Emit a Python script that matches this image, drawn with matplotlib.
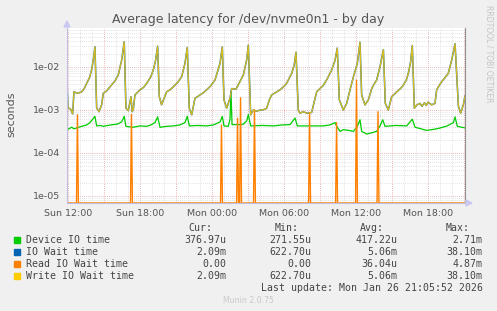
import matplotlib
matplotlib.use('Agg')
import matplotlib.pyplot as plt
from matplotlib.patches import Rectangle
from matplotlib.ticker import MultipleLocator, FuncFormatter, FixedLocator, NullFormatter
import numpy as np

# time axis: hours since Sun 12:00
write_t = [-0.08, 0.0, 0.2, 0.39, 0.5, 0.8, 1.14, 1.35, 1.56, 1.8, 1.97, 2.12, 2.25,
           2.39, 2.58, 2.81, 2.94, 3.2, 3.5, 3.9, 4.19, 4.47, 4.69,
           4.83, 5.03, 5.25, 5.35, 5.44, 5.58, 6.0, 6.3, 6.56, 6.9, 7.11, 7.3, 7.47,
           7.61, 7.8, 8.22, 8.5, 8.78, 9.1, 9.47, 9.75, 9.94,
           10.11, 10.31, 10.58, 11.0, 11.3, 11.56, 11.9, 12.25, 12.67, 12.86,
           13.0, 13.22, 13.5, 13.64, 14.0, 14.33, 14.61, 14.89, 15.03,
           15.22, 15.44, 15.7, 16.0, 16.3, 16.56, 16.78, 16.97, 17.3, 17.67, 18.0, 18.22, 18.64, 18.85, 19.0,
           19.19, 19.33, 19.6, 19.9, 20.3, 20.72, 21.0, 21.28, 21.6, 21.97, 22.25, 22.44,
           22.61, 22.94, 23.22, 23.5, 23.78, 24.11, 24.33,
           24.47, 24.75, 25.03, 25.31, 25.5, 25.72, 26.0, 26.28,
           26.44, 26.69, 26.97, 27.39, 27.7, 27.94, 28.2, 28.36, 28.55, 28.69,
           28.86, 29.06, 29.33, 29.5, 29.7, 29.85, 30.0, 30.3, 30.58, 30.72, 31.14, 31.4, 31.69, 31.97, 32.25,
           32.53, 32.72, 32.94, 33.08]
write_v = [4.0e-3, 1.1e-3, 1.05e-3, 8.0e-4, 2.6e-3, 2.4e-3, 2.6e-3, 3.1e-3, 4.1e-3, 5.6e-3, 8.4e-3, 1.5e-2, 2.9e-2,
           1.1e-3, 9.0e-4, 1.3e-3, 2.4e-3, 2.7e-3, 3.4e-3, 4.6e-3, 6.4e-3, 1.4e-2, 3.81e-2,
           1.08e-3, 9.5e-4, 2.0e-3, 9.0e-4, 1.0e-3, 2.2e-3, 2.9e-3, 3.3e-3, 4.1e-3, 5.8e-3, 8.4e-3, 1.4e-2, 3.0e-2,
           2.0e-3, 1.3e-3, 2.6e-3, 2.9e-3, 3.4e-3, 4.2e-3, 5.8e-3, 1.2e-2, 2.8e-2,
           1.08e-3, 7.6e-4, 1.84e-3, 2.2e-3, 2.5e-3, 2.9e-3, 3.6e-3, 4.9e-3, 1.2e-2, 2.9e-2,
           1.7e-3, 1.08e-3, 1.84e-3, 3.1e-3, 3.0e-3, 4.5e-3, 6.4e-3, 1.43e-2, 3.2e-2,
           7.6e-4, 9.8e-4, 9.2e-4, 9.8e-4, 1.0e-3, 1.08e-3, 1.7e-3, 2.2e-3, 2.5e-3, 2.9e-3, 3.5e-3, 4.1e-3, 7.0e-3, 1.1e-2, 2.16e-2,
           9.8e-4, 8.3e-4, 9.0e-4, 8.3e-4, 8.6e-4, 2.6e-3, 3.1e-3, 3.7e-3, 5.2e-3, 8.4e-3, 1.4e-2, 2.7e-2,
           1.7e-3, 9.8e-4, 1.4e-3, 2.9e-3, 5.8e-3, 1.2e-2, 3.7e-2,
           2.2e-3, 1.29e-3, 1.7e-3, 3.1e-3, 3.9e-3, 4.9e-3, 1.0e-2, 2.5e-2,
           1.4e-3, 9.8e-4, 2.0e-3, 2.6e-3, 3.1e-3, 3.7e-3, 5.0e-3, 7.0e-3, 1.3e-2, 3.1e-2,
           1.08e-3, 1.29e-3, 1.4e-3, 1.2e-3, 1.45e-3, 1.25e-3, 1.5e-3, 1.3e-3, 1.4e-3, 2.9e-3, 4.5e-3, 5.5e-3, 7.0e-3, 1.43e-2, 3.4e-2,
           1.2e-3, 8.3e-4, 1.29e-3, 2.09e-3]

device_t = [-0.08, 0.31, 0.5, 0.72, 1.0, 1.28, 1.55, 1.83, 2.25, 2.39, 2.7, 2.94, 3.3, 3.78, 4.1, 4.47, 4.69, 4.83,
            5.1, 5.44, 6.0, 6.56, 6.9, 7.25, 7.47, 7.67, 8.2, 8.78, 9.3, 9.75, 9.94, 10.11, 10.8, 11.56, 12.1,
            12.67, 12.86, 13.0, 13.36, 13.5, 13.58, 13.67, 14.33, 14.61, 14.89, 15.03, 15.22, 16.2, 17.11,
            17.8, 18.5, 18.92, 19.11, 20.2, 21.28, 21.8, 22.25, 22.39, 22.67, 22.94, 23.4, 23.78, 24.11,
            24.33, 24.47, 24.89, 25.3, 25.72, 26.0, 26.22, 26.42, 27.3, 28.22, 28.69, 28.92, 29.4, 29.89,
            30.5, 31.0, 31.6, 32.11, 32.25, 32.44, 33.08]
device_v = [3.4e-4, 3.9e-4, 3.6e-4, 3.75e-4, 4.0e-4, 4.2e-4, 4.4e-4, 5.0e-4, 7.0e-4, 4.2e-4, 4.3e-4, 4.1e-4,
            4.3e-4, 4.5e-4, 4.6e-4, 5.2e-4, 7.0e-4, 4.1e-4, 4.0e-4, 3.9e-4, 4.2e-4, 4.1e-4, 4.4e-4, 5.0e-4,
            6.8e-4, 3.9e-4, 4.1e-4, 4.2e-4, 4.4e-4, 5.0e-4, 7.0e-4, 4.2e-4, 4.3e-4, 4.2e-4, 4.4e-4, 5.2e-4,
            7.0e-4, 4.2e-4, 4.1e-4, 6.0e-4, 2.71e-3, 4.5e-4, 4.5e-4, 4.6e-4, 5.5e-4, 7.7e-4, 4.2e-4, 4.3e-4,
            4.2e-4, 4.4e-4, 4.5e-4, 6.4e-4, 4.2e-4, 4.2e-4, 4.2e-4, 4.4e-4, 5.0e-4, 4.1e-4, 3.13e-4, 3.43e-4,
            3.3e-4, 3.13e-4, 4.1e-4, 5.85e-4, 3.13e-4, 2.72e-4, 2.9e-4, 3.13e-4, 4.2e-4, 5.85e-4, 4.1e-4,
            4.3e-4, 4.2e-4, 6.0e-4, 3.9e-4, 3.6e-4, 3.3e-4, 3.5e-4, 3.75e-4, 4.2e-4, 5.0e-4, 6.8e-4, 4.1e-4,
            3.77e-4]

read_t = [-0.08, 0.71, 0.79, 0.87, 5.21, 5.29, 5.37, 12.71, 12.79, 12.87, 14.05, 14.13, 14.21,
          14.30, 14.38, 14.46, 15.46, 15.54, 15.62, 20.05, 20.13, 20.21, 22.30, 22.38, 22.46,
          23.96, 24.04, 24.12, 25.75, 25.83, 25.91, 33.08]
read_v = [0, 0, 7.6e-4, 0, 0, 7.8e-4, 0, 0, 4.4e-4, 0, 0, 6.3e-4, 0,
          0, 1.9e-3, 0, 0, 1.0e-3, 0, 0, 8.0e-4, 0, 0, 5.0e-4, 0,
          0, 4.87e-3, 0, 0, 9.0e-4, 0, 0]

legend_names = ['Device IO time', 'IO Wait time', 'Read IO Wait time', 'Write IO Wait time']
legend_colors = ['#00CC00', '#0066B3', '#FF8000', '#FFCC00']
cur_vals = ['376.97u', '2.09m', '0.00', '2.09m']
min_vals = ['271.55u', '622.70u', '0.00', '622.70u']
avg_vals = ['417.22u', '5.06m', '36.04u', '5.06m']
max_vals = ['2.71m', '38.10m', '4.87m', '38.10m']

W, H = 497, 311
fig = plt.figure(figsize=(W / 100, H / 100), dpi=100)
fig.patch.set_facecolor('#F0F0F0')
ax = fig.add_axes([67 / W, 1 - 203 / H, 398 / W, 175 / H])
ax.set_facecolor('white')

ymin, ymax = 6.76e-6, 0.0794
ax.set_yscale('log')
ax.set_xlim(-0.08, 33.08)
ax.set_ylim(ymin, ymax)

# grid
ax.xaxis.set_major_locator(MultipleLocator(3))
ax.xaxis.set_minor_locator(MultipleLocator(1))
ax.yaxis.set_major_locator(FixedLocator([1e-5, 1e-4, 1e-3, 1e-2]))
minors = [m * 10.0 ** e for e in range(-6, -1) for m in range(2, 10)]
ax.yaxis.set_minor_locator(FixedLocator(minors))
ax.yaxis.set_minor_formatter(NullFormatter())
ax.grid(which='minor', color='#d8d8d8', linestyle=(0, (1, 1.5)), linewidth=0.6)
ax.grid(which='major', color='#e8a0a0', linestyle=(0, (1, 1.5)), linewidth=0.6)
ax.set_axisbelow(True)


def xfmt(h, pos):
    if abs(h % 6) > 1e-6:
        return ''
    hh = 12 + h
    day = 'Sun' if hh < 24 else 'Mon'
    return '%s %02d:00' % (day, int(hh % 24))


ax.xaxis.set_major_formatter(FuncFormatter(xfmt))
ax.yaxis.set_major_formatter(FuncFormatter(lambda v, p: '%.0e' % v))
ax.tick_params(which='both', length=0, labelsize=6.8, colors='#555555')
ax.tick_params(axis='x', pad=4)
ax.tick_params(axis='y', pad=5)

ax.spines['top'].set_visible(False)
ax.spines['left'].set_color('#c0c0e0')
ax.spines['bottom'].set_color('#c0c0e0')
ax.spines['right'].set_color('#909090')
for s in ['left', 'bottom', 'right']:
    ax.spines[s].set_linewidth(0.8)

# series
ax.plot(device_t, device_v, color='#00CC00', lw=0.9)
ax.plot(write_t, write_v, color='#0066B3', lw=1.1)
ax.plot(read_t, np.clip(read_v, ymin, None), color='#FF8000', lw=1.0)
ax.plot(write_t, write_v, color='#FFCC00', lw=0.9, alpha=0.85)

# axis arrows
fig.patches.append(plt.Polygon([[64 / W, 1 - 27 / H], [70 / W, 1 - 27 / H], [67 / W, 1 - 21 / H]],
                               closed=True, transform=fig.transFigure, color='#c8c8f0'))
fig.patches.append(plt.Polygon([[466 / W, 1 - 200 / H], [466 / W, 1 - 206 / H], [472 / W, 1 - 203 / H]],
                               closed=True, transform=fig.transFigure, color='#c8c8f0'))

# texts
fig.text(248 / W, 1 - 23.5 / H, 'Average latency for /dev/nvme0n1 - by day', ha='center', va='baseline',
         fontsize=9, color='#555555')
fig.text(11.7 / W, 1 - 114 / H, 'seconds', rotation=90, ha='center', va='center', fontsize=8, color='#555555')
fig.text(488.5 / W, 1 - 5 / H, 'RRDTOOL / TOBI OETIKER', rotation=270, ha='center', va='top',
         fontsize=5.5, color='#c4c4c4')

mono = dict(family='DejaVu Sans Mono', fontsize=7.15, color='#444444', va='baseline')
for x, lab in zip([212.7, 299, 384.3, 470], ['Cur:', 'Min:', 'Avg:', 'Max:']):
    fig.text(x / W, 1 - 231 / H, lab, ha='right', **mono)
for i, name in enumerate(legend_names):
    yb = 243 + 12 * i
    fig.patches.append(Rectangle((14 / W, 1 - (yb - 0.5) / H), 5.5 / W, 5.5 / H,
                                 transform=fig.transFigure, color=legend_colors[i]))
    fig.text(26 / W, 1 - yb / H, name, ha='left', **mono)
    for x, vals in zip([226, 311.7, 397.3, 482.7], [cur_vals, min_vals, avg_vals, max_vals]):
        fig.text(x / W, 1 - yb / H, vals[i], ha='right', **mono)
fig.text(482.7 / W, 1 - 291 / H, 'Last update: Mon Jan 26 21:05:52 2026', ha='right', **mono)
fig.text(248 / W, 1 - 302.7 / H, 'Munin 2.0.75', ha='center', va='baseline', fontsize=5.6, color='#c8c8c8')

fig.savefig('out.png', dpi=100, facecolor=fig.get_facecolor())
